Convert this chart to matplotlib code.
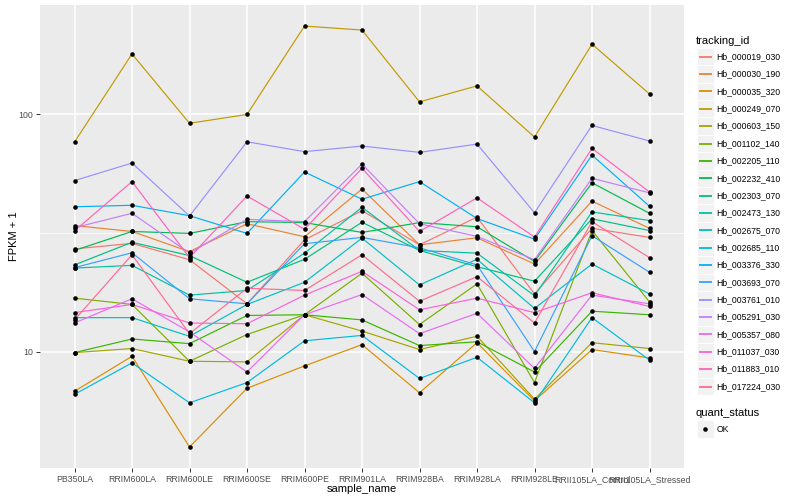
import numpy as np
import matplotlib.pyplot as plt
from matplotlib.patches import Rectangle
from matplotlib.ticker import FixedLocator, NullFormatter

plt.rcParams['font.family'] = ['Liberation Sans', 'DejaVu Sans']

samples = ['PB350LA', 'RRIM600LA', 'RRIM600LE', 'RRIM600SE', 'RRIM600PE', 'RRIM901LA',
           'RRIM928BA', 'RRIM928LA', 'RRIM928LE', 'RRII105LA_Control', 'RRII105LA_Stressed']

ids = ['Hb_000019_030', 'Hb_000030_190', 'Hb_000035_320', 'Hb_000249_070', 'Hb_000603_150',
       'Hb_001102_140', 'Hb_002205_110', 'Hb_002232_410', 'Hb_002303_070', 'Hb_002473_130',
       'Hb_002675_070', 'Hb_002685_110', 'Hb_003376_330', 'Hb_003693_070', 'Hb_003761_010',
       'Hb_005291_030', 'Hb_005357_080', 'Hb_011037_030', 'Hb_011883_010', 'Hb_017224_030']

# ggplot hue palette, 20 levels
colors = ['#F8766D', '#EA8331', '#D89000', '#C09B00', '#A3A500', '#7CAE00', '#39B600', '#00BB4E',
          '#00BF7D', '#00C1A3', '#00BFC4', '#00BAE0', '#00B0F6', '#35A2FF', '#9590FF', '#C77CFF',
          '#E76BF3', '#FA62DB', '#FF62BC', '#FF6C91']

# FPKM + 1, one value per sample
hb_000019_030 = [27.1, 28.6, 24.4, 15.9, 29.6, 39.3, 28.2, 36.9, 17.5, 33.1, 30.3]
hb_000030_190 = [34.0, 32.1, 26.4, 34.6, 30.5, 48.5, 28.2, 30.2, 23.4, 43.1, 33.1]
hb_000035_320 = [6.8, 9.55, 3.96, 7.0, 8.7, 10.7, 6.7, 10.9, 6.2, 10.2, 9.4]
hb_000249_070 = [76.5, 180, 91.8, 100, 236, 227, 113, 132, 80.3, 198, 122]
hb_000603_150 = [9.9, 10.3, 9.1, 9.05, 14.3, 12.2, 10.2, 11.6, 6.3, 10.9, 10.3]
hb_001102_140 = [16.8, 15.8, 9.1, 11.8, 14.3, 21.4, 13.0, 19.3, 7.4, 32.4, 16.2]
hb_002205_110 = [9.9, 11.3, 10.8, 14.2, 14.3, 13.6, 10.6, 11.0, 8.2, 14.8, 14.3]
hb_002232_410 = [26.7, 32.1, 31.5, 35.3, 35.0, 31.8, 35.0, 33.6, 24.0, 51.5, 38.3]
hb_002303_070 = [23.2, 28.9, 25.4, 19.6, 24.5, 35.1, 26.7, 22.8, 19.8, 36.3, 32.4]
hb_002473_130 = [22.5, 23.1, 17.3, 18.1, 26.0, 40.6, 26.7, 26.0, 17.2, 38.8, 35.7]
hb_002675_070 = [13.9, 13.9, 11.6, 15.8, 19.6, 30.1, 19.1, 24.5, 15.2, 23.4, 17.5]
hb_002685_110 = [6.6, 8.96, 6.08, 7.4, 11.1, 11.7, 7.7, 9.46, 6.08, 13.9, 9.2]
hb_003376_330 = [40.8, 41.4, 37.4, 31.5, 57.2, 43.9, 52.1, 36.4, 29.8, 67.4, 41.0]
hb_003693_070 = [22.6, 26.1, 16.7, 15.9, 28.5, 30.3, 27.4, 23.2, 10.0, 30.8, 21.6]
hb_003761_010 = [52.6, 62.4, 37.3, 76.7, 69.7, 73.6, 69.2, 75.0, 38.5, 89.9, 77.3]
hb_005291_030 = [33.3, 38.3, 26.0, 36.1, 35.3, 61.8, 34.6, 30.6, 24.4, 53.8, 46.7]
hb_005357_080 = [13.2, 16.7, 12.1, 8.2, 14.3, 17.4, 11.9, 14.5, 8.5, 17.3, 15.9]
hb_011037_030 = [14.6, 15.8, 13.2, 13.1, 17.3, 21.8, 15.0, 16.8, 14.6, 17.7, 15.5]
hb_011883_010 = [32.3, 52.1, 24.9, 45.3, 32.8, 59.3, 32.1, 44.5, 30.4, 71.9, 47.1]
hb_017224_030 = [13.6, 25.6, 11.9, 18.5, 18.1, 25.6, 16.3, 20.7, 13.2, 35.3, 24.9]

series = [hb_000019_030, hb_000030_190, hb_000035_320, hb_000249_070, hb_000603_150,
          hb_001102_140, hb_002205_110, hb_002232_410, hb_002303_070, hb_002473_130,
          hb_002675_070, hb_002685_110, hb_003376_330, hb_003693_070, hb_003761_010,
          hb_005291_030, hb_005357_080, hb_011037_030, hb_011883_010, hb_017224_030]

fig = plt.figure(figsize=(8, 5), dpi=100)
ax = fig.add_axes([40 / 800, 1 - 468 / 500, 644 / 800, 463 / 500])
ax.set_facecolor('#EBEBEB')
ax.set_yscale('log')

x = np.arange(len(samples))
for col, vals in zip(colors, series):
    ax.plot(x, vals, color=col, lw=0.85, zorder=2)
for vals in series:
    ax.plot(x, vals, 'o', ms=3.3, color='black', mec='none', zorder=3)

# ggplot-like expansion (5% in log space)
allv = np.log10(np.concatenate(series))
lo, hi = allv.min(), allv.max()
pad = (hi - lo) * 0.05
ax.set_ylim(10 ** (lo - pad), 10 ** (hi + pad))
ax.set_xlim(-0.6, len(samples) - 0.4)

ax.yaxis.set_major_locator(FixedLocator([10, 100]))
ax.yaxis.set_minor_locator(FixedLocator([10 ** 0.5, 10 ** 1.5, 10 ** 2.5]))
ax.yaxis.set_major_formatter(lambda v, p: f'{v:g}')
ax.yaxis.set_minor_formatter(NullFormatter())
ax.set_xticks(x, samples)

ax.grid(which='major', color='white', lw=1.1)
ax.grid(which='minor', axis='y', color='white', lw=0.55)
ax.set_axisbelow(True)
for s in ax.spines.values():
    s.set_visible(False)
ax.tick_params(which='major', length=3, width=0.7, color='#333333',
               labelcolor='#4D4D4D', labelsize=6.3, pad=2)
ax.tick_params(which='minor', length=0)
ax.set_xlabel('sample_name', fontsize=8)
ax.set_ylabel('FPKM + 1', fontsize=8)
ax.xaxis.set_label_coords(322 / 644, -16.5 / 463)
ax.yaxis.set_label_coords(-21 / 644, 0.5)

# legends drawn in pixel space
lg = fig.add_axes([0, 0, 1, 1], facecolor='none')
lg.set_xlim(0, 800)
lg.set_ylim(500, 0)
lg.axis('off')

lg.text(696, 40.5, 'tracking_id', fontsize=8, va='center', ha='left')
step = 17.36
for i, (name, col) in enumerate(zip(ids, colors)):
    yc = 56.7 + i * step
    lg.add_patch(Rectangle((696.5, yc - step / 2), 17, step, facecolor='#F2F2F2',
                           edgecolor='white', lw=0.6, zorder=1))
    lg.plot([698.5, 712], [yc, yc], color=col, lw=1.3, zorder=3, solid_capstyle='butt')
    lg.text(716.5, yc, name, fontsize=6.2, va='center', ha='left')

lg.text(696, 412.5, 'quant_status', fontsize=8, va='center', ha='left')
lg.add_patch(Rectangle((696.5, 429 - step / 2), 17, step, facecolor='#F2F2F2',
                       edgecolor='white', lw=0.6, zorder=1))
lg.plot([705], [429], 'o', ms=3.3, color='black', mec='none', zorder=3)
lg.text(716.5, 429, 'OK', fontsize=6.2, va='center', ha='left')

plt.savefig('out.png', dpi=100)
plt.close()
